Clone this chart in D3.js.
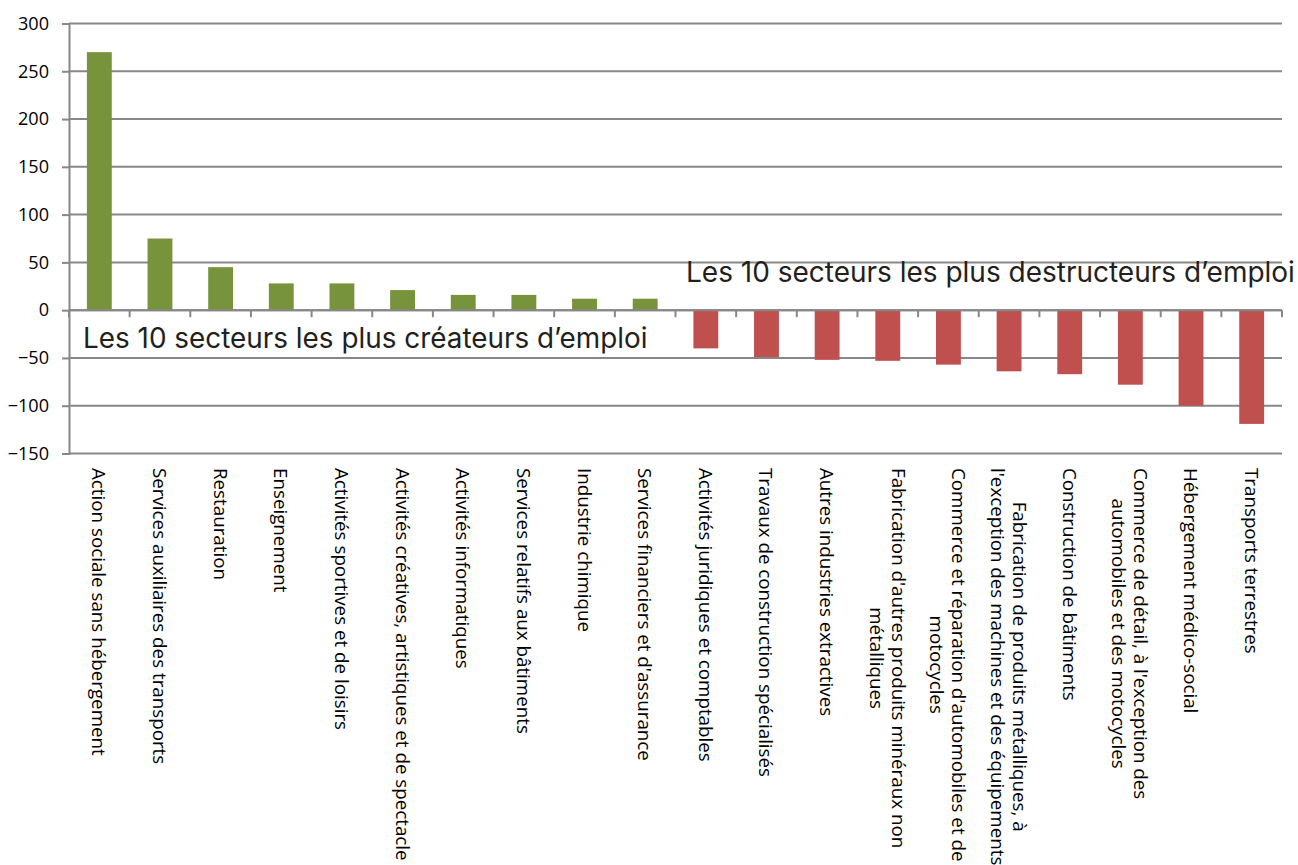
<!DOCTYPE html>
<html><head><meta charset="utf-8">
<script src="https://cdn.jsdelivr.net/npm/d3@7"></script>
<style>html,body{margin:0;padding:0;background:#fff;overflow:hidden}</style>
</head><body>
<svg id="chart" width="1298" height="865"></svg>
<script>
const categories = [
  "Action sociale sans hébergement",
  "Services auxiliaires des transports",
  "Restauration",
  "Enseignement",
  "Activités sportives et de loisirs",
  "Activités créatives, artistiques et de spectacle",
  "Activités informatiques",
  "Services relatifs aux bâtiments",
  "Industrie chimique",
  "Services financiers et d'assurance",
  "Activités juridiques et comptables",
  "Travaux de construction spécialisés",
  "Autres industries extractives",
  "Fabrication d'autres produits minéraux non\nmétalliques",
  "Commerce et réparation d'automobiles et de\nmotocycles",
  "Fabrication de produits métalliques, à\nl'exception des machines et des équipements",
  "Construction de bâtiments",
  "Commerce de détail, à l'exception des\nautomobiles et des motocycles",
  "Hébergement médico-social",
  "Transports terrestres"
];
const values = [270, 75, 45, 28, 28, 21, 16, 16, 12, 12,
                -40, -49, -52, -53, -57, -64, -67, -78, -100, -119];
const yTicks = [-150, -100, -50, 0, 50, 100, 150, 200, 250, 300];
const annotations = [
  "Les 10 secteurs les plus créateurs d’emploi",
  "Les 10 secteurs les plus destructeurs d’emploi"
];

(function () {
const svg = d3.select("#chart");
const mLeft = 69, mRight = 1282, mTop = 23.5, mBottom = 453.5;
const x = d3.scaleBand().domain(d3.range(categories.length)).range([mLeft, mRight]).paddingInner(0.59).paddingOuter(0.295);
const xb = d3.scaleBand().domain(d3.range(categories.length)).range([mLeft, mRight]);
const y = d3.scaleLinear().domain([-150, 300]).range([mBottom, mTop]);
const grid = "#878787";
const FONT = "'Open Sans', 'Noto Sans', sans-serif";
const ANN_FONT = "Inter, 'Noto Sans', sans-serif";

function fitSize(str, target, family, weight) {
  const t = svg.append("text").attr("font-family", family).attr("font-weight", weight || 400)
    .attr("font-size", 100).text(str);
  const w = t.node().getComputedTextLength();
  t.remove();
  return 100 * target / w;
}

// gridlines
svg.append("g").selectAll("line").data(yTicks).join("line")
  .attr("x1", mLeft).attr("x2", mRight)
  .attr("y1", d => y(d)).attr("y2", d => y(d))
  .attr("stroke", grid).attr("stroke-width", 2);

// y axis
const tickFs = fitSize("300", 31, FONT);
const yAxis = d3.axisLeft(y).tickValues(yTicks).tickSize(7).tickPadding(13);
const gy = svg.append("g").attr("transform", `translate(${mLeft},0)`).call(yAxis);
gy.select(".domain").attr("stroke", grid).attr("stroke-width", 2);
gy.selectAll(".tick line").attr("stroke", grid).attr("stroke-width", 2);
gy.selectAll(".tick text").attr("font-family", FONT).attr("font-size", tickFs).attr("fill", "#000");

// bars
svg.append("g").selectAll("rect").data(values).join("rect")
  .attr("x", (d, i) => x(i))
  .attr("width", x.bandwidth())
  .attr("y", d => y(Math.max(0, d)))
  .attr("height", d => Math.abs(y(d) - y(0)))
  .attr("fill", d => d >= 0 ? "#77933C" : "#C0504D");

// x axis at zero
const bounds = d3.range(categories.length + 1).map(i => mLeft + i * xb.step());
svg.append("line").attr("x1", mLeft).attr("x2", mRight).attr("y1", y(0)).attr("y2", y(0))
  .attr("stroke", grid).attr("stroke-width", 2);
svg.append("g").selectAll("line").data(bounds).join("line")
  .attr("x1", d => d).attr("x2", d => d)
  .attr("y1", y(0)).attr("y2", y(0) + 7)
  .attr("stroke", grid).attr("stroke-width", 2);

// category labels
const labFs = fitSize(categories[0], 288, FONT);
const lineH = 22;
const lab = svg.append("g");
categories.forEach((c, i) => {
  const lines = c.split("\n");
  const cx = xb(i) + xb.bandwidth() / 2;
  const g = lab.append("g").attr("transform", `translate(${cx},468) rotate(90)`);
  const t = g.append("text").attr("font-family", FONT).attr("font-size", labFs)
    .attr("fill", "#000").attr("text-anchor", "middle").attr("dominant-baseline", "central");
  const spans = lines.map((l, j) => t.append("tspan").attr("y", (j - (lines.length - 1) / 2) * lineH).text(l));
  let maxW = 0;
  spans.forEach(s => { maxW = Math.max(maxW, s.node().getComputedTextLength()); });
  spans.forEach(s => s.attr("x", maxW / 2));
});

// annotations
const annFs = fitSize(annotations[0], 565, ANN_FONT, 400);
svg.append("text").attr("x", 83).attr("y", 348).attr("font-family", ANN_FONT).attr("font-weight", 400)
  .attr("font-size", annFs).attr("fill", "#231F20").text(annotations[0]);
const annFs2 = fitSize(annotations[1], 609, ANN_FONT, 400);
svg.append("text").attr("x", 686).attr("y", 282).attr("font-family", ANN_FONT).attr("font-weight", 400)
  .attr("font-size", annFs2).attr("fill", "#231F20").text(annotations[1]);
})();
</script>
</body></html>
